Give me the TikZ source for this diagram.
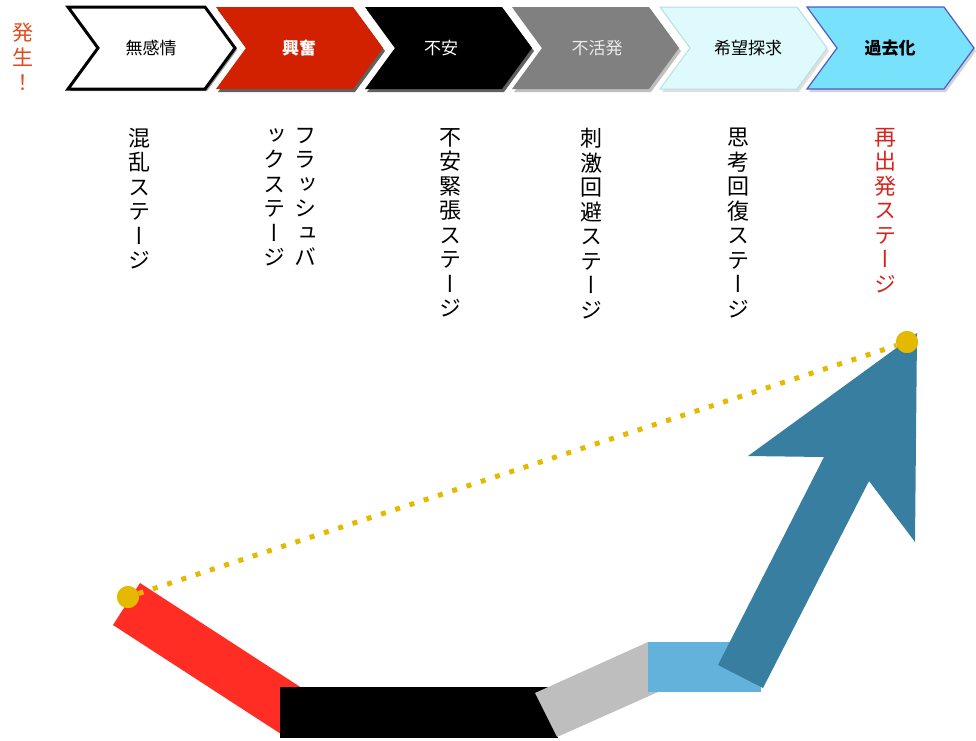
\documentclass[tikz,border=0pt]{standalone}
\usepackage{fontspec}
\newfontfamily\jp{Noto Sans CJK JP}
\newfontfamily\jpv[RawFeature=+vert]{Noto Sans CJK JP}
\definecolor{chred}{RGB}{210,33,0}
\definecolor{chgray}{RGB}{128,128,128}
\definecolor{chcyan}{RGB}{222,250,252}
\definecolor{chcyanb}{RGB}{185,222,228}
\definecolor{chblue}{RGB}{120,225,252}
\definecolor{chblueb}{RGB}{80,90,200}
\definecolor{barred}{RGB}{255,45,35}
\definecolor{bargray}{RGB}{190,190,190}
\definecolor{barlblue}{RGB}{99,178,220}
\definecolor{arrowteal}{RGB}{55,126,160}
\definecolor{dotyel}{RGB}{228,185,0}
\definecolor{txtred}{RGB}{215,35,30}
\definecolor{txtorange}{RGB}{225,75,30}
\tikzset{
  chev/.pic={\path[pic actions] (0,0) -- (137,0) -- (167,41) -- (137,82) -- (0,82) -- (30,41) -- cycle;},
  lbl/.style={inner sep=0, font=\jp\fontsize{17}{20}\selectfont},
  vtext/.style={anchor=north, align=center, inner sep=0, font=\jpv\fontsize{22}{24.5}\selectfont},
  ydot/.style={circle, fill=dotyel, minimum size=22pt, inner sep=0},
}
\begin{document}
\begin{tikzpicture}[x=1pt,y=-1pt]
\useasboundingbox (0,0) rectangle (976,740);
% chevrons
\pic[fill=gray!80] at (70,9) {chev};
\pic[fill=white, draw=black, line width=3pt, line join=miter] at (68,7) {chev};
\pic[fill=gray!75!black] at (218,10) {chev};
\pic[fill=chred] at (216,7) {chev};
\pic[fill=gray!75!black] at (367,10) {chev};
\pic[fill=black] at (365,7) {chev};
\pic[fill=gray!50] at (514,10) {chev};
\pic[fill=chgray] at (512,7) {chev};
\pic[fill=gray!25] at (662,10) {chev};
\pic[fill=chcyan, draw=chcyanb, line width=1pt] at (660,7) {chev};
\pic[fill=gray!35] at (809,10) {chev};
\pic[fill=chblue, draw=chblueb, line width=1.2pt] at (807,7) {chev};
\node[lbl] (c1) at (151,48) {無感情};
\node[lbl, text=white] (c2) at (299,48) {\bfseries 興奮};
\node[lbl, text=white] (c3) at (441,48) {不安};
\node[lbl, text=white!92!black] (c4) at (597,48) {不活発};
\node[lbl] (c5) at (748,48) {希望探求};
\node[lbl] (c6) at (890,48) {\bfseries 過去化};
% left label
\node[vtext, text=txtorange, font=\jpv\fontsize{21}{25}\selectfont] (start) at (23,23) {発\\生\\！};
% vertical stage labels
\node[vtext] (v1) at (139,128) {混\\乱\\ス\\テ\\ー\\ジ};
\node[vtext] (v2a) at (305,128) {フ\\ラ\\ッ\\シ\\ュ\\バ};
\node[vtext] (v2b) at (274,128) {ッ\\ク\\ス\\テ\\ー\\ジ};
\node[vtext] (v3) at (450,128) {不\\安\\緊\\張\\ス\\テ\\ー\\ジ};
\node[vtext] (v4) at (591,128) {刺\\激\\回\\避\\ス\\テ\\ー\\ジ};
\node[vtext] (v5) at (738,128) {思\\考\\回\\復\\ス\\テ\\ー\\ジ};
\node[vtext, text=txtred] (v6) at (885,128) {再\\出\\発\\ス\\テ\\ー\\ジ};
% bottom path
\fill[barred] (140,583) -- (113,625) -- (281,734) -- (308,692) -- cycle;
\fill[black] (280,687) rectangle (558,738);
\fill[bargray] (535,693) -- (557,737) -- (658,692) -- (648,642) -- cycle;
\fill[barlblue] (648,642) rectangle (761,692);
\fill[arrowteal] (718,665) -- (824,457) -- (748,456) -- (917,333) -- (915,542) -- (869,481) -- (763,688) -- cycle;
% dotted line
\node[ydot] (dA) at (128,597) {};
\node[ydot] (dB) at (907,342) {};
\draw[dotyel, line width=5pt, dash pattern=on 5pt off 10pt] (dA) -- (dB);
\node[ydot] at (dA) {};
\node[ydot] at (dB) {};
\end{tikzpicture}
\end{document}
